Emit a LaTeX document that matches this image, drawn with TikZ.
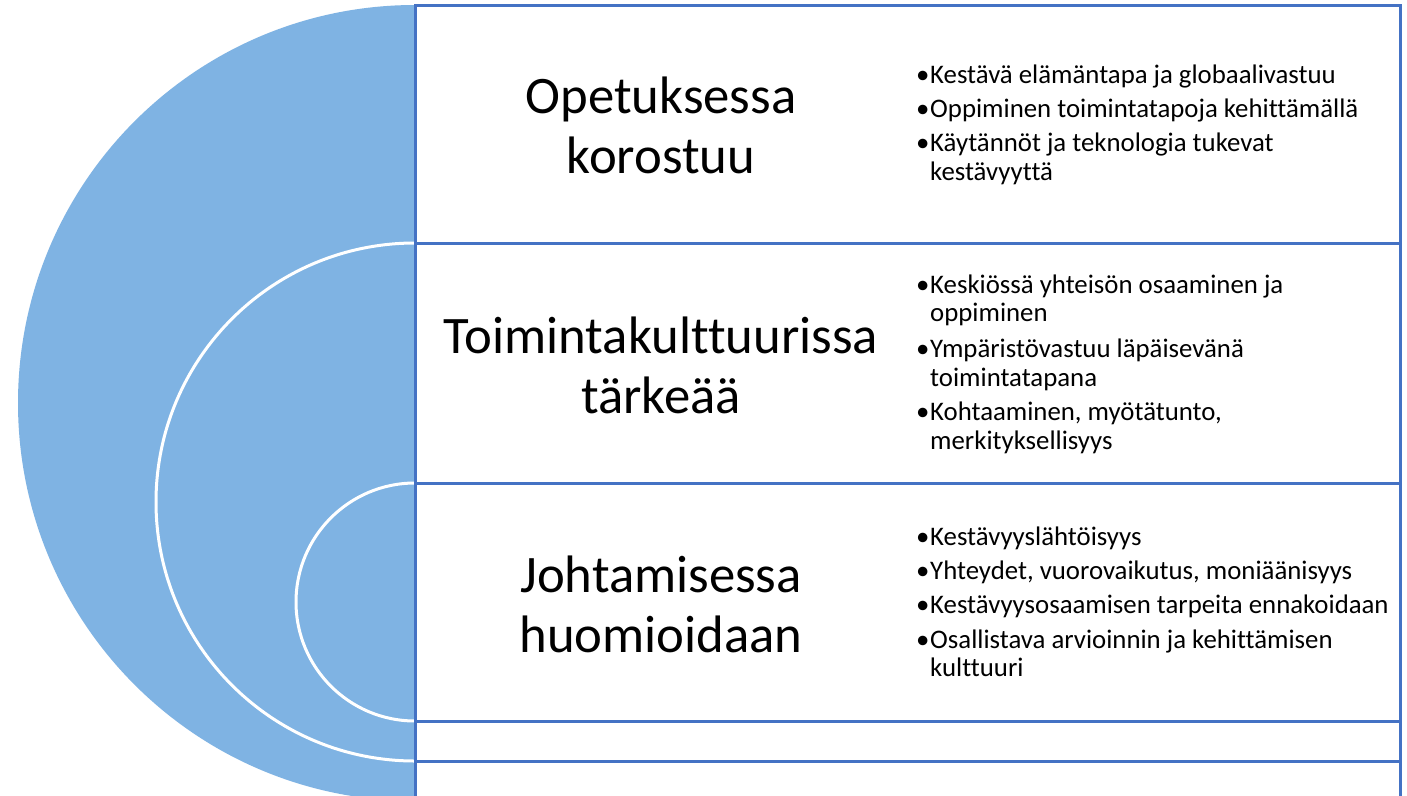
\documentclass[tikz,border=0pt]{standalone}
\usepackage{fontspec}
\setmainfont{Carlito}[Ligatures={CommonOff,ContextualOff}]
\definecolor{frameblue}{HTML}{4472C4}
\definecolor{discblue}{HTML}{7FB3E3}
\newcommand{\bl}{\makebox[14pt][l]{\textbullet}}
\newcommand{\ind}{\hspace*{14pt}}
\begin{document}
\begin{tikzpicture}[x=1pt,y=-1pt,
  titletext/.style={align=center,inner sep=0pt,font=\fontsize{52.7}{60}\selectfont},
  bullettext/.style={align=left,inner sep=0pt,anchor=west,font=\fontsize{26.8}{28.7}\selectfont},
  frame/.style={draw=frameblue,line width=3pt},
  ring/.style={fill=discblue,draw=white,line width=3pt}]
\useasboundingbox (0,0) rectangle (1407,795);
\fill[white] (0,0) rectangle (1407,795);
% nested half discs
\begin{scope}
  \clip (0,0) rectangle (415,795);
  \fill[discblue] (415,403) ellipse [x radius=397, y radius=398];
  \draw[ring] (415,502) circle [radius=259];
  \draw[ring] (415,602) circle [radius=119];
\end{scope}
% frames
\draw[frame] (415,5.5) rectangle (1400,243);
\draw[frame] (415,243) rectangle (1400,483);
\draw[frame] (415,483) rectangle (1400,721);
\draw[frame] (415,721) rectangle (1400,761);
\draw[frame] (415,761) -- (415,800);
\draw[frame] (1400,761) -- (1400,800);
% titles
\node[titletext] (t1) at (661,125) {Opetuksessa\\korostuu};
\node[titletext] (t2) at (661,365) {Toimintakulttuurissa\\tärkeää};
\node[titletext] (t3) at (661,604) {Johtamisessa\\huomioidaan};
% bullets
\node[bullettext] (b1) at (916,125) {\bl Kestävä elämäntapa ja globaalivastuu\\[5.5pt]
\bl Oppiminen toimintatapoja kehittämällä\\[5.5pt]
\bl Käytännöt ja teknologia tukevat\\
\ind kestävyyttä};
\node[bullettext] (b2) at (916,364) {\bl Keskiössä yhteisön osaaminen ja\\
\ind oppiminen\\[7pt]
\bl Ympäristövastuu läpäisevänä\\
\ind toimintatapana\\[5.5pt]
\bl Kohtaaminen, myötätunto,\\
\ind merkityksellisyys};
\node[bullettext] (b3) at (916,602) {\bl Kestävyyslähtöisyys\\[5.5pt]
\bl Yhteydet, vuorovaikutus, moniäänisyys\\[5.5pt]
\bl Kestävyysosaamisen tarpeita ennakoidaan\\[5.5pt]
\bl Osallistava arvioinnin ja kehittämisen\\
\ind kulttuuri};
\end{tikzpicture}
\end{document}
